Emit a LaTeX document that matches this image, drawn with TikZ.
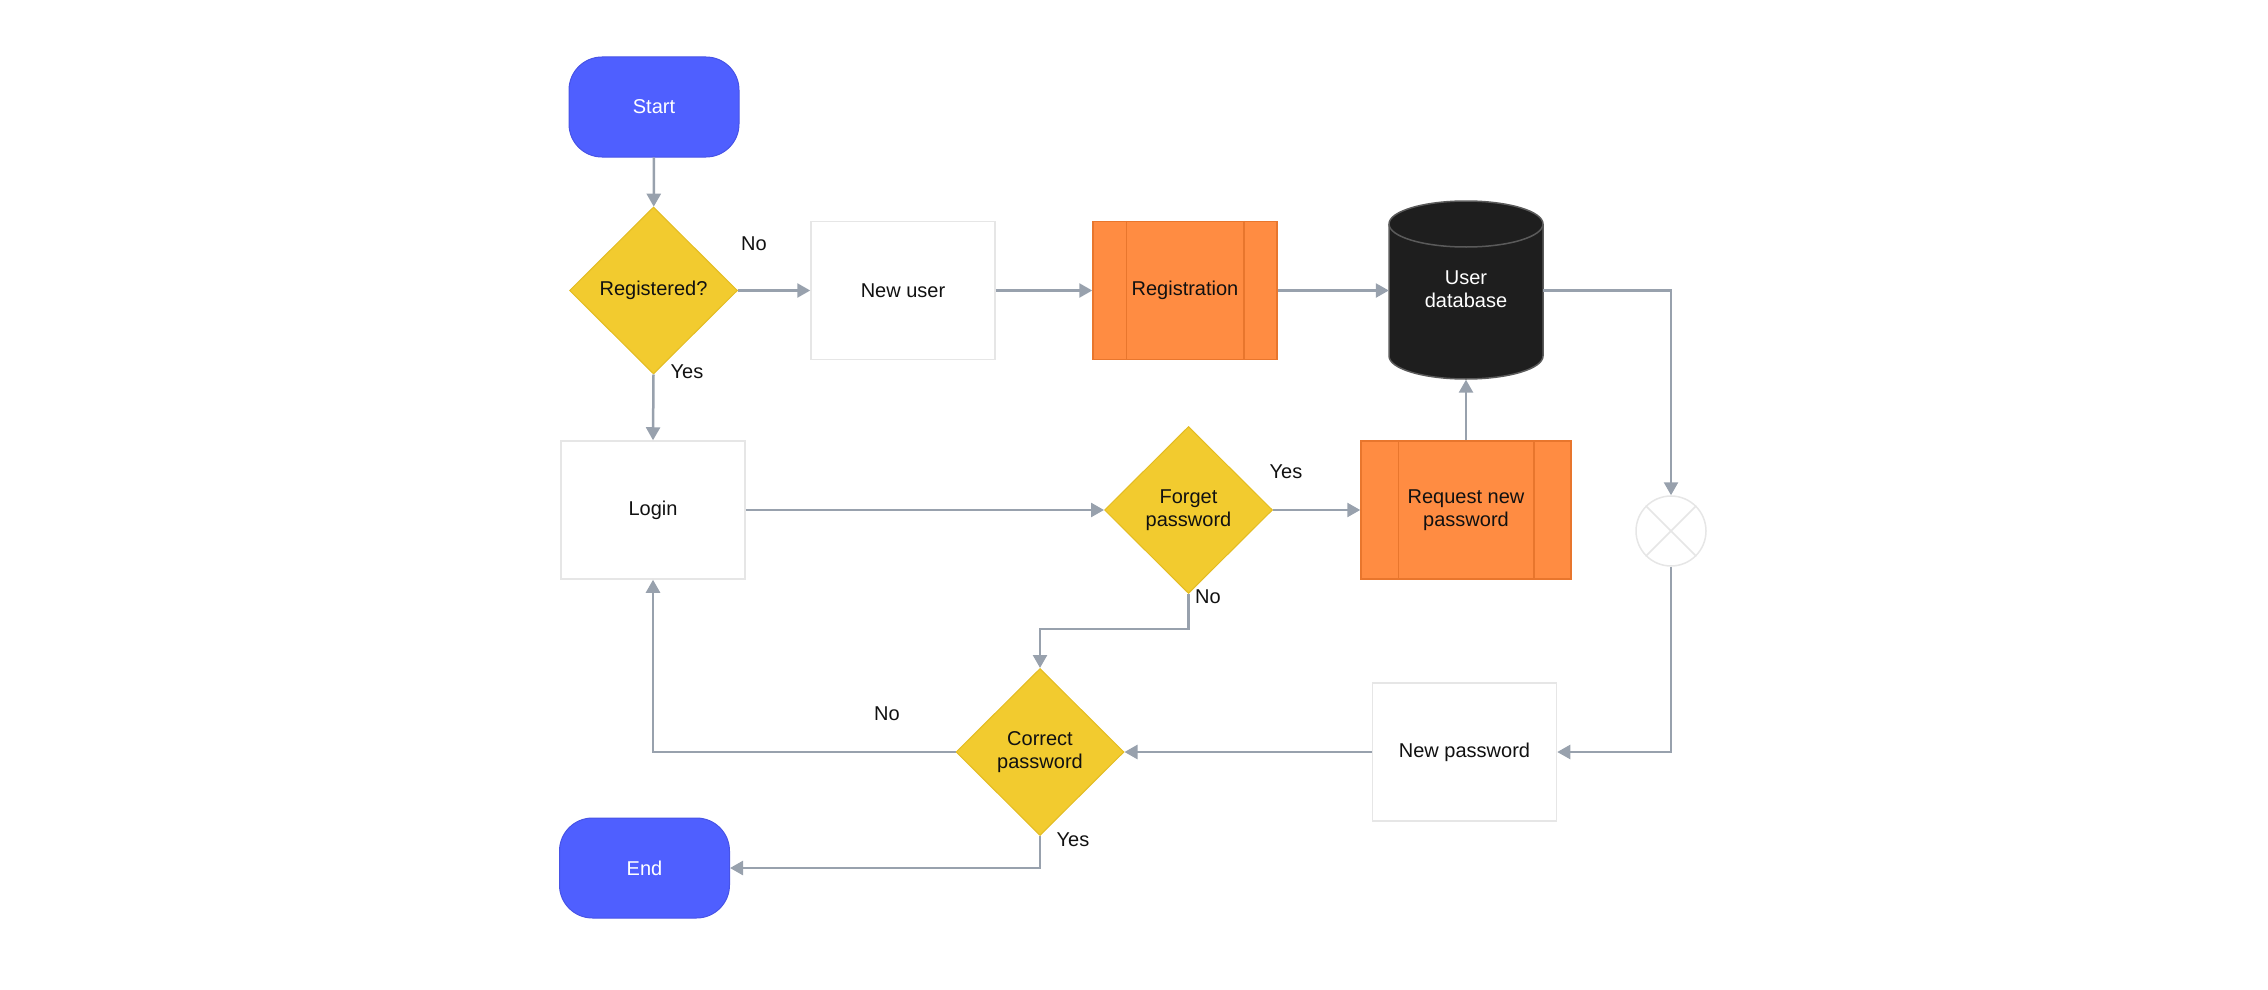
\documentclass[tikz,border=0pt]{standalone}
\usepackage{fontspec}
\setmainfont{Liberation Sans}
\usetikzlibrary{shapes.geometric,arrows.meta}
\definecolor{termblue}{HTML}{4F5FFF}
\definecolor{termborder}{HTML}{4753E6}
\definecolor{decyellow}{HTML}{F2CB2F}
\definecolor{decborder}{HTML}{E3BC22}
\definecolor{procorange}{HTML}{FF8C42}
\definecolor{procborder}{HTML}{E8762D}
\definecolor{linegrey}{HTML}{98A1AD}
\definecolor{boxborder}{HTML}{E6E6E6}
\definecolor{dbfill}{HTML}{1E1E1E}
\definecolor{dbborder}{HTML}{5A5A5A}
\definecolor{txt}{HTML}{111111}
\tikzset{
  every node/.style={font=\fontsize{20}{23}\selectfont, text=txt, align=center, inner sep=0pt},
  terminal/.style={rectangle, rounded corners=33pt, fill=termblue, draw=termborder, line width=1pt, text=white, minimum width=170pt, minimum height=100pt},
  decision/.style={diamond, fill=decyellow, draw=decborder, line width=1pt, minimum width=168pt, minimum height=167pt},
  plainbox/.style={rectangle, fill=white, draw=boxborder, line width=1.5pt, minimum width=184pt, minimum height=138pt},
  procbox/.style={rectangle, fill=procorange, draw=procborder, line width=1.5pt, minimum height=138pt},
  conn/.style={draw=linegrey, line width=2.5pt, -{Triangle[length=13pt,width=14pt]}},
  lbl/.style={font=\fontsize{20}{23}\selectfont}
}
\begin{document}
\begin{tikzpicture}[x=1pt,y=-1pt]
\useasboundingbox (0,0) rectangle (2268,990);
% nodes
\node[terminal] (start) at (654,107) {Start};
\node[decision] (reg) at (653.5,290.5) {Registered?};
\node[plainbox] (newuser) at (903,290.5) {New user};
\node[procbox, minimum width=184pt] (regis) at (1185,290.5) {Registration};
\draw[procborder, line width=1.5pt] ([xshift=34pt]regis.north west) -- ([xshift=34pt]regis.south west);
\draw[procborder, line width=1.5pt] ([xshift=-34pt]regis.north east) -- ([xshift=-34pt]regis.south east);
% database cylinder
\node[rectangle, minimum width=154pt, minimum height=179pt] (db) at (1466,290) {};
\fill[dbfill] (1389,224) -- (1389,356) arc[start angle=180, end angle=360, x radius=77pt, y radius=23pt] -- (1543,224) arc[start angle=0, end angle=180, x radius=77pt, y radius=23pt] -- cycle;
\draw[dbborder, line width=1.5pt] (1389,224) -- (1389,356) arc[start angle=180, end angle=360, x radius=77pt, y radius=23pt] -- (1543,224) arc[start angle=0, end angle=180, x radius=77pt, y radius=23pt] -- cycle;
\draw[dbborder, line width=1.5pt] (1389,224) arc[start angle=180, end angle=360, x radius=77pt, y radius=23pt];
\node[text=white] (dbtext) at (1466,289) {User\\database};
\node[plainbox] (login) at (653,510) {Login};
\node[decision] (forget) at (1188.5,510) {Forget\\password};
\node[procbox, minimum width=210pt] (request) at (1466,510) {Request new\\password};
\draw[procborder, line width=1.5pt] ([xshift=38pt]request.north west) -- ([xshift=38pt]request.south west);
\draw[procborder, line width=1.5pt] ([xshift=-38pt]request.north east) -- ([xshift=-38pt]request.south east);
\node[circle, draw=boxborder, fill=white, line width=1.5pt, minimum size=70pt] (merge) at (1671,531) {};
\draw[boxborder, line width=1.5pt] (merge.north west) -- (merge.south east);
\draw[boxborder, line width=1.5pt] (merge.north east) -- (merge.south west);
\node[plainbox] (newpw) at (1464.5,752) {New password};
\node[decision] (correct) at (1040,752) {Correct\\password};
\node[terminal] (end) at (644.5,868) {End};
% connectors
\draw[conn] (start) -- (reg);
\draw[conn] (reg.east) -- (newuser.west);
\draw[conn] (reg.south) -- (login.north);
\draw[conn] (newuser.east) -- (regis.west);
\draw[conn] (regis.east) -- (db.west |- regis.east);
\draw[conn] (db.east |- regis.east) -| (merge.north);
\draw[conn] (login.east) -- (forget.west);
\draw[conn] (forget.east) -- (request.west);
\draw[conn] (request.north) -- (db.south);
\draw[conn] (merge.south) |- (newpw.east);
\draw[conn] (newpw.west) -- (correct.east);
\coordinate (fbend) at (1188.5,629);
\draw[conn] (forget.south) -- (fbend) -| (correct.north);
\draw[conn] (correct.west) -| (login.south);
\draw[conn] (correct.south) |- (end.east);
% labels
\node[lbl] (l1) at (754,244) {No};
\node[lbl] (l2) at (687,372) {Yes};
\node[lbl] (l3) at (1286,472) {Yes};
\node[lbl] (l4) at (1208,597) {No};
\node[lbl] (l5) at (887,714) {No};
\node[lbl] (l6) at (1073,840) {Yes};
\end{tikzpicture}
\end{document}
